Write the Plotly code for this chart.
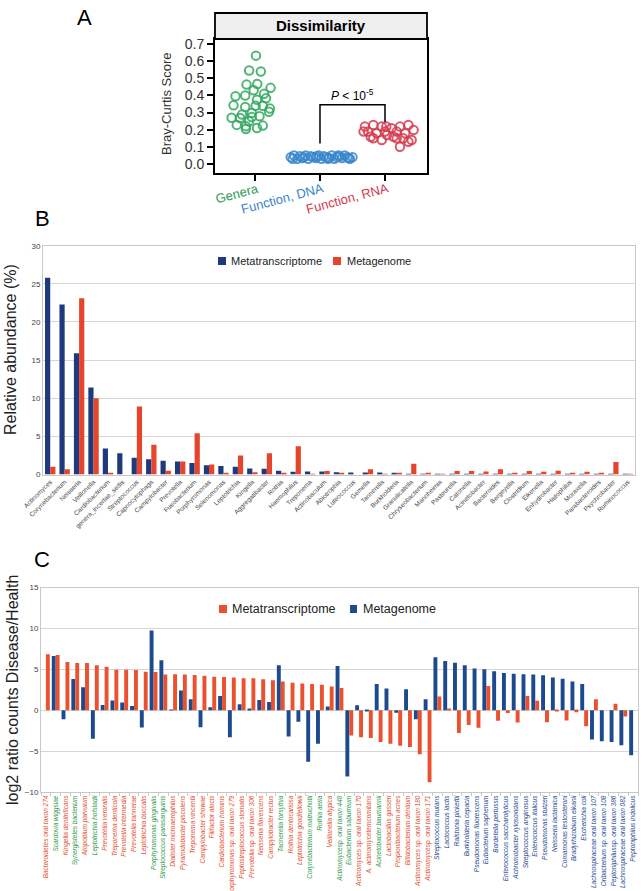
import plotly.graph_objects as go

W, H = 643, 891

def fx(x):
    return x / W

def fy(y):
    return 1 - y / H

# ---------------- Panel A data ----------------
a_categories = ["Genera", "Function, DNA", "Function, RNA"]
a_label_colors = ["#2E9A55", "#3A86CC", "#D03A4E"]
a_point_colors = ["rgba(52,168,96,0.85)", "rgba(58,134,204,0.85)", "rgba(214,58,78,0.85)"]

genera_offset = [0.015, -0.09, 0.09, -0.13, 0.035, 0.24, -0.02, 0.14, -0.30, -0.15,
                 0.17, 0.03, -0.33, -0.15, 0.01, 0.12, 0.23, 0.215, -0.20, -0.05,
                 0.07, -0.36, -0.23, -0.09, -0.28, -0.14, 0.12, -0.14, 0.03, -0.05]
genera_score = [0.632, 0.545, 0.539, 0.463, 0.467, 0.444, 0.430, 0.409, 0.395, 0.399,
                0.383, 0.375, 0.342, 0.333, 0.340, 0.340, 0.323, 0.305, 0.288, 0.298,
                0.278, 0.270, 0.268, 0.249, 0.228, 0.220, 0.224, 0.204, 0.210, 0.274]

dna_offset = [-0.45, -0.40, -0.35, -0.31, -0.27, -0.22, -0.18, -0.14, -0.10, -0.06,
              -0.02, 0.02, 0.06, 0.10, 0.14, 0.18, 0.22, 0.26, 0.30, 0.34,
              0.38, 0.42, 0.46, 0.50, -0.42, -0.25, -0.05, 0.12, 0.28, 0.44]
dna_score = [0.040, 0.050, 0.030, 0.045, 0.035, 0.050, 0.030, 0.045, 0.040, 0.035,
             0.050, 0.030, 0.045, 0.040, 0.035, 0.050, 0.030, 0.040, 0.045, 0.035,
             0.050, 0.040, 0.030, 0.040, 0.030, 0.040, 0.045, 0.030, 0.050, 0.035]

rna_offset = [-0.31, -0.18, -0.05, 0.10, 0.23, 0.36, 0.44, -0.26, -0.13, 0.00,
              0.18, 0.31, -0.18, -0.05, 0.13, 0.28, 0.41, 0.23, 0.36, 0.03,
              -0.33, -0.22, 0.02, 0.18]
rna_score = [0.218, 0.228, 0.218, 0.208, 0.218, 0.228, 0.198, 0.189, 0.179, 0.189,
             0.189, 0.179, 0.150, 0.140, 0.159, 0.150, 0.140, 0.101, 0.130, 0.169,
             0.189, 0.159, 0.218, 0.150]

# significance bracket (data units)
bracket_x = [1, 1, 2, 2]
bracket_y = [0.12, 0.345, 0.345, 0.245]

# ---------------- Panel B data ----------------
b_genera = ["Actinomyces", "Corynebacterium", "Neisseria", "Veillonella", "Cardiobacterium",
            "genera_incertae_sedis", "Streptococcus", "Capnocytophaga", "Campylobacter", "Prevotella",
            "Fusobacterium", "Porphyromonas", "Selenomonas", "Leptotrichia", "Kingella",
            "Aggregatibacter", "Rothia", "Haemophilus", "Treponema", "Actinobaculum",
            "Abiotrophia", "Luteococcus", "Gemella", "Tannerella", "Burkholderia",
            "Granulicatella", "Chryseobacterium", "Mannheimia", "Pasteurella", "Catonella",
            "Acinetobacter", "Bacteroides", "Bergeyella", "Clostridium", "Eikenella",
            "Enhydrobacter", "Histophilus", "Moraxella", "Parabacteroides", "Psychrobacter",
            "Ruminococcus"]
b_metatranscriptome = [25.8, 22.3, 15.9, 11.4, 3.4, 2.8, 2.2, 2.0, 1.8, 1.7,
                       1.5, 1.2, 1.1, 1.0, 0.8, 0.75, 0.5, 0.35, 0.4, 0.4,
                       0.3, 0.25, 0.25, 0.25, 0.15, 0.1, 0.05, 0.05, 0.05, 0.03,
                       0.02, 0.02, 0.02, 0.02, 0.02, 0.02, 0.02, 0.02, 0.02, 0.02,
                       0.02]
b_metagenome = [1.0, 0.7, 23.1, 10.0, 0.2, 0.0, 8.9, 3.9, 0.5, 1.7,
                5.4, 1.3, 0.2, 2.5, 0.3, 2.8, 0.2, 3.7, 0.1, 0.45,
                0.15, 0.0, 0.7, 0.05, 0.15, 1.4, 0.15, 0.1, 0.45, 0.45,
                0.4, 0.7, 0.2, 0.45, 0.35, 0.5, 0.2, 0.35, 0.15, 1.65,
                0.1]
b_yticks = [0, 5, 10, 15, 20, 25, 30]

# ---------------- Panel C data ----------------
c_species = ["Bacteroidetes oral taxon 274", "Scardovia wiggsiae", "Kingella denitrificans",
             "Synergistetes bacterium", "Atopobium parvulum", "Leptotrichia hofstadii",
             "Prevotella veroralis", "Treponema denticola", "Prevotella intermedia",
             "Prevotella tannerae", "Leptotrichia buccalis", "Porphyromonas gingivalis",
             "Streptococcus parasanguinis", "Dialister microaerophilus", "Pyramidobacter piscolens",
             "Treponema vincentii", "Campylobacter showae", "Filifactor alocis",
             "Cardiobacterium hominis", "Porphyromonas sp. oral taxon 279", "Peptostreptococcus stomatis",
             "Prevotella sp. oral taxon 306", "Neisseria flavescens", "Campylobacter rectus",
             "Tannerella forsythia", "Rothia dentocariosa", "Leptotrichia goodfellowii",
             "Corynebacterium matruchotii", "Rothia aeria", "Veillonella atypica",
             "Actinomycesp. oral taxon 448", "Eubacterium saburreum", "Actinomyces sp. oral taxon 170",
             "A. actinomycetemcomitans", "Acinetobacter baumannii", "Lactobacillus gasseri",
             "Propionibacterium acnes", "Bifidobacterium dentium", "Actinomyces sp. oral taxon 180",
             "Actinomycesp. oral taxon 171", "Streptococcus mutans", "Lactococcus lactis",
             "Ralstonia pickettii", "Burkholderia cepacia", "Pseudomonas fluorescens",
             "Eubacterium saphenum", "Bordetella pertussis", "Enterococcus saccharolyticus",
             "Achromobacter xylosoxidans", "Streptococcus anginosus", "Enterococcus italicus",
             "Pseudomonas stutzeri", "Neisseria lactamica", "Comamonas testosteroni",
             "Bradyrhizobium elkanii", "Escherichia coli", "Lachnospiraceae oral taxon 107",
             "Oribacterium sp. oral taxon 108", "Peptoniphilussp. oral taxon 386",
             "Lachnospiraceae oral taxon 082", "Peptoniphilus indolicus"]
c_group = ["r", "g", "r", "g", "r", "g", "r", "r", "r", "r", "r", "g", "g",
           "r", "r", "r", "r", "r", "r", "r", "r", "r", "r", "r", "g", "r", "r", "g", "g", "r",
           "g", "g", "r", "r", "g", "r", "r", "r", "r", "r",
           "b", "b", "b", "b", "b", "b", "b", "b", "b", "b", "b", "b", "b", "b", "b", "b",
           "b", "b", "b", "b", "b"]
c_metagenome = [0.0, 6.63, -1.1, 3.8, 2.8, -3.5, 0.65, 1.2, 0.93, 0.5, -2.1, 9.75, 6.1,
                0.05, 2.4, 1.35, -2.07, 0.37, 1.75, -3.3, 0.73, 0.1, 1.26, 1.0, 5.5, -3.2, -1.4,
                -6.3, -4.1, 0.45, 5.4, -8.1, 0.6, -0.05, 3.2, 2.65, -0.3, 2.56, -1.1, 1.34,
                6.46, 6.0, 5.8, 5.5, 5.1, 5.0, 4.75, 4.55, 4.47, 4.4, 4.35, 4.27, 4.0, 3.86,
                3.5, 3.2, -3.58, -3.8, -3.9, -4.3, -5.5]
c_metatranscriptome = [6.83, 6.75, 5.9, 5.77, 5.77, 5.5, 5.3, 4.95, 4.95, 4.9, 4.7, 4.67, 4.35,
                       4.4, 4.35, 4.3, 4.2, 4.1, 4.07, 4.0, 3.9, 3.9, 3.78, 3.66, 3.5, 3.37, 3.25,
                       3.2, 3.1, 2.9, 2.7, -3.1, -3.3, -3.4, -3.9, -4.1, -4.35, -4.5, -5.37, -8.8,
                       1.67, 0.15, -2.8, -1.8, -2.15, 2.97, -1.3, -0.33, -1.5, 1.75, 1.14, -1.46,
                       -0.16, -1.26, -0.24, -1.95, 1.34, 0.0, 0.8, -0.77, 0.0]
c_yticks = [-10, -5, 0, 5, 10, 15]

# ---------------- styles ----------------
FONT = "Liberation Sans, Arial, sans-serif"
B_BLUE = "#1E3A7C"
B_RED = "#E4452B"
C_BLUE = "#1D4A8E"
C_RED = "#EA522F"
GRID = "#D6D6D6"
group_color = {"r": "#E4502E", "g": "#2F9A4E", "b": "#1F4C94"}

fig = go.Figure()

# Panel A scatter
for i, (offs, vals) in enumerate([(genera_offset, genera_score),
                                  (dna_offset, dna_score),
                                  (rna_offset, rna_score)]):
    fig.add_trace(go.Scatter(
        x=[i + o for o in offs], y=vals, mode="markers",
        marker=dict(symbol="circle-open", size=8.5, color=a_point_colors[i],
                    line=dict(width=2, color=a_point_colors[i])),
        xaxis="x", yaxis="y", showlegend=False, hoverinfo="skip"))
fig.add_trace(go.Scatter(x=bracket_x, y=bracket_y, mode="lines",
                         line=dict(color="black", width=1.5),
                         xaxis="x", yaxis="y", showlegend=False, hoverinfo="skip"))

# Panel B bars
fig.add_trace(go.Bar(x=b_genera, y=b_metatranscriptome, name="Metatranscriptome",
                     marker=dict(color=B_BLUE, line=dict(width=0)),
                     width=0.36, offset=-0.36, xaxis="x2", yaxis="y2", showlegend=False))
fig.add_trace(go.Bar(x=b_genera, y=b_metagenome, name="Metagenome",
                     marker=dict(color=B_RED, line=dict(width=0)),
                     width=0.36, offset=0.0, xaxis="x2", yaxis="y2", showlegend=False))

# Panel C bars
fig.add_trace(go.Bar(x=c_species, y=c_metagenome, name="Metagenome",
                     marker=dict(color=C_BLUE, line=dict(width=0)),
                     width=0.40, offset=-0.40, xaxis="x3", yaxis="y3", showlegend=False))
fig.add_trace(go.Bar(x=c_species, y=c_metatranscriptome, name="Metatranscriptome",
                     marker=dict(color=C_RED, line=dict(width=0)),
                     width=0.40, offset=0.0, xaxis="x3", yaxis="y3", showlegend=False))

c_ticktext = [f"<i><span style='color:{group_color[g]}'>{s}</span></i>" for s, g in zip(c_species, c_group)]

layout = dict(
    template="none",
    width=W, height=H, autosize=False,
    margin=dict(l=0, r=0, t=0, b=0, pad=0),
    paper_bgcolor="white", plot_bgcolor="white",
    font=dict(family=FONT, color="#333333"),
    barmode="overlay", showlegend=False,
    # Panel A
    xaxis=dict(domain=[fx(215), fx(427)], range=[-0.615, 2.646], anchor="y", automargin=False,
               tickvals=[0, 1, 2], showticklabels=False, ticks="outside", ticklen=6, tickwidth=1.5,
               tickcolor="black", showline=True, linecolor="black", linewidth=1.8,
               mirror=True, showgrid=False, zeroline=False),
    yaxis=dict(domain=[fy(173), fy(39)], range=[-0.0525, 0.729], anchor="x", automargin=False,
               tickvals=[0, 0.1, 0.2, 0.3, 0.4, 0.5, 0.6, 0.7], tickformat=".1f",
               tickfont=dict(size=14, color="#333333"), ticks="outside", ticklen=6,
               tickwidth=1.5, tickcolor="black", showline=True, linecolor="black",
               linewidth=1.8, mirror=True, showgrid=False, zeroline=False),
    # Panel B
    xaxis2=dict(domain=[fx(43), fx(635)], anchor="y2", type="category", automargin=False,
                tickangle=-45, tickfont=dict(size=6.5, color="#444444"),
                showline=True, linecolor="#C8C8C8", linewidth=1, mirror=True,
                showgrid=False, zeroline=False, ticks=""),
    yaxis2=dict(domain=[fy(474.5), fy(245.7)], range=[0, 30], anchor="x2", automargin=False,
                tickvals=b_yticks, tickfont=dict(size=8, color="#444444"),
                showline=True, linecolor="#C8C8C8", linewidth=1, mirror=True,
                showgrid=True, gridcolor=GRID, gridwidth=1, zeroline=False, ticks=""),
    # Panel C
    xaxis3=dict(domain=[fx(41), fx(638)], anchor="y3", type="category", automargin=False,
                tickvals=c_species, ticktext=c_ticktext, tickangle=-90,
                tickfont=dict(size=6.5), showline=True, linecolor="#C8C8C8", linewidth=1,
                mirror=True, showgrid=False, zeroline=False,
                ticks="outside", tickson="boundaries", ticklen=3, tickcolor="#C8C8C8"),
    yaxis3=dict(domain=[fy(792), fy(587.5)], range=[-10, 15], anchor="x3", automargin=False,
                tickvals=c_yticks, tickfont=dict(size=8, color="#444444"),
                showline=True, linecolor="#C8C8C8", linewidth=1, mirror=True,
                showgrid=True, gridcolor=GRID, gridwidth=1, zeroline=True,
                zerolinecolor=GRID, zerolinewidth=1, ticks=""),
)
fig.update_layout(**layout)

shapes = [
    # Panel A facet strip
    dict(type="rect", xref="paper", yref="paper", x0=fx(215), x1=fx(427),
         y0=fy(39), y1=fy(13), fillcolor="#EFEFEF", line=dict(color="black", width=1.8)),
    # Panel B legend keys
    dict(type="rect", xref="paper", yref="paper", x0=fx(218), x1=fx(226),
         y0=fy(265), y1=fy(257), fillcolor=B_BLUE, line=dict(width=0)),
    dict(type="rect", xref="paper", yref="paper", x0=fx(333), x1=fx(341),
         y0=fy(265), y1=fy(257), fillcolor=B_RED, line=dict(width=0)),
    # Panel C legend keys
    dict(type="rect", xref="paper", yref="paper", x0=fx(219), x1=fx(227),
         y0=fy(613), y1=fy(605), fillcolor=C_RED, line=dict(width=0)),
    dict(type="rect", xref="paper", yref="paper", x0=fx(350), x1=fx(357),
         y0=fy(613), y1=fy(605), fillcolor=C_BLUE, line=dict(width=0)),
]

def ann(text, x, y, size, xanchor="center", yanchor="middle", angle=0, color="#222222", **kw):
    return dict(text=text, x=fx(x), y=fy(y), xref="paper", yref="paper", showarrow=False,
                xanchor=xanchor, yanchor=yanchor, textangle=angle,
                font=dict(size=size, color=color, family=FONT), **kw)

annotations = [
    ann("A", 85, 17, 22, color="black"),
    ann("B", 42, 218, 22, color="black"),
    ann("C", 42, 559, 22, color="black"),
    ann("<b>Dissimilarity</b>", 321, 26, 15, color="black"),
    ann("Bray-Curtis Score", 166, 104, 13, angle=-90, color="#333333"),
    dict(text="<i>P</i> < 10<sup>-5</sup>", x=1.5, y=0.405, xref="x", yref="y",
         showarrow=False, font=dict(size=12, color="black", family=FONT)),
    ann("Relative abundance (%)", 10, 350, 16, angle=-90, color="#222222"),
    ann("Metatranscriptome", 229, 261, 11, xanchor="left"),
    ann("Metagenome", 345, 261, 11, xanchor="left"),
    ann("log2 ratio counts Disease/Health", 12, 690, 16, angle=-90, color="#222222"),
    ann("Metatranscriptome", 230, 609, 12.5, xanchor="left"),
    ann("Metagenome", 361, 609, 12.5, xanchor="left"),
]
# Panel A category labels (tilted, coloured)
for i, (t, c) in enumerate(zip(a_categories, a_label_colors)):
    annotations.append(dict(text=t, x=i, y=fy(178), xref="x", yref="paper", showarrow=False,
                            xanchor="right", yanchor="top", xshift=8, textangle=-15,
                            font=dict(size=13, color=c, family=FONT)))

fig.update_layout(shapes=shapes, annotations=annotations)
fig.write_html("out.html", config={"displayModeBar": False},
               post_script="document.body.style.margin='0px';document.body.style.padding='0px';")
